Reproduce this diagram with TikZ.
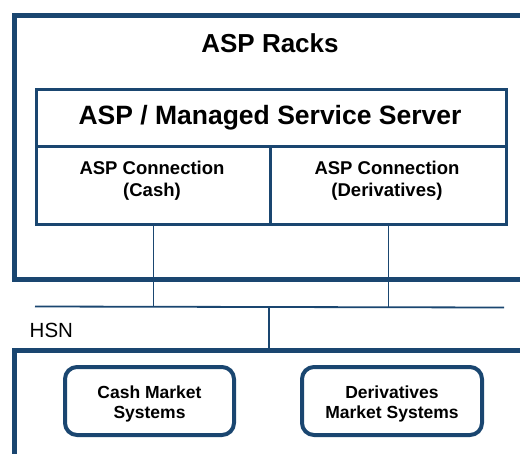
\documentclass[tikz,border=0pt]{standalone}
\usepackage{fontspec}
\setmainfont{Liberation Sans}
\definecolor{navy}{HTML}{1A4670}
\begin{document}
\begin{tikzpicture}[x=1pt,y=-1pt,
  bigbox/.style={draw=navy, line width=4.5pt, anchor=north west, inner sep=0pt},
  cellbox/.style={draw=navy, line width=3pt, anchor=north west, inner sep=0pt},
  sysbox/.style={draw=navy, line width=4pt, rounded corners=12pt, inner sep=0pt},
  systext/.style={align=center, inner sep=0pt, yshift=-3pt, font=\bfseries\fontsize{17.5}{20.5}\selectfont},
  wire/.style={draw=navy, line width=1.8pt},
  celltext/.style={align=center, inner sep=0pt, font=\bfseries\fontsize{18.5}{22}\selectfont}]
\useasboundingbox (0,0) rectangle (520,453);
\clip (0,0) rectangle (520,453);
% ASP Racks outer box
\node[bigbox, minimum width=528pt, minimum height=264pt] (racks) at (12,13) {};
\node[inner sep=0pt, font=\bfseries\fontsize{26}{30}\selectfont] (title) at (270,43) {ASP Racks};
% server
\node[cellbox, minimum width=470pt, minimum height=57pt] (server) at (35,88) {};
\node[inner sep=0pt, font=\bfseries\fontsize{26.5}{30}\selectfont] (servertxt) at (270,117.5) {ASP / Managed Service Server};
\node[cellbox, minimum width=234pt, minimum height=78pt] (cashcell) at (35,145) {};
\node[cellbox, minimum width=236pt, minimum height=78pt] (dercell) at (269,145) {};
\node[celltext] (cashtxt) at (152,181) {ASP Connection\\(Cash)};
\node[celltext] (dertxt) at (387,181) {ASP Connection\\(Derivatives)};
% HSN
\coordinate (hsnL) at (35,306.5);
\coordinate (hsnR) at (504,307.5);
\coordinate (hsnmid) at (269,307);
\draw[wire] (hsnL) -- (hsnR);
\draw[wire] (cashcell.south) -- (cashcell.south |- hsnmid);
\draw[wire] (dercell.south) -- (dercell.south |- hsnmid);
\node[anchor=west, inner sep=0pt, font=\fontsize{20.5}{24}\selectfont] (hsn) at (29.5,330) {HSN};
% market box
\node[bigbox, minimum width=528pt, minimum height=122pt] (market) at (12,348) {};
\draw[wire] (hsnmid) -- (hsnmid |- market.north);
\node[sysbox, minimum width=169pt, minimum height=68pt,
  label={[systext]center:{Cash Market\\Systems}}] (cashsys) at (149.5,401) {};
\node[sysbox, minimum width=180pt, minimum height=68pt,
  label={[systext]center:{Derivatives\\Market Systems}}] (dersys) at (392,401) {};
\end{tikzpicture}
\end{document}
